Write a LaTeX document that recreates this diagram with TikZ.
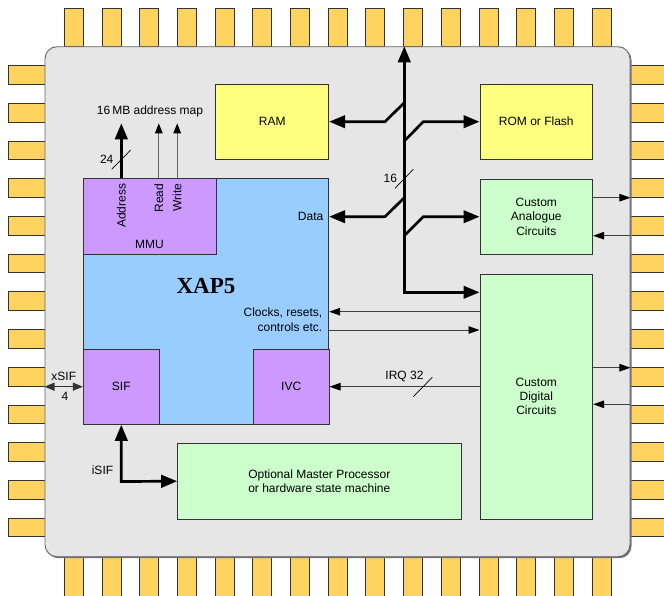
\documentclass[tikz,border=0pt]{standalone}
\usepackage{fontspec}
\setmainfont{Liberation Sans}
\newfontfamily\serifbold{Liberation Serif}
\usetikzlibrary{arrows.meta,calc}
\definecolor{pincol}{HTML}{FFD35F}
\definecolor{bodycol}{HTML}{E6E6E6}
\definecolor{yelcol}{HTML}{FFFF80}
\definecolor{grncol}{HTML}{CCFFCC}
\definecolor{bluecol}{HTML}{99CCFF}
\definecolor{purcol}{HTML}{CC99FF}
\tikzset{
  pinbox/.style={fill=pincol, draw=black!80, line width=0.9pt},
  blk/.style={draw=black!80, line width=0.9pt, inner sep=0pt, align=center},
  busline/.style={line width=2.7pt, black},
  bigtip/.tip={Triangle[length=16pt,width=12.5pt]},
  smalltip/.tip={Triangle[length=11pt,width=7.5pt,color=black]},
  thinarrow/.style={draw=black!75, line width=0.9pt, -{smalltip}},
  sigarrow/.style={draw=black!60, line width=1.3pt, -{Triangle[length=10pt,width=7.5pt,color=black]}},
  slashline/.style={draw=black, line width=0.7pt},
  lbl/.style={inner sep=0pt}
}
\begin{document}
\begin{tikzpicture}[x=1pt,y=-1pt,font=\fontsize{12}{14.3}\selectfont]
\useasboundingbox (0,0) rectangle (664,595);
\clip (0,0) rectangle (664,595);
% pins
\foreach \i in {0,...,14} {
  \path[pinbox] ({64.3+37.7*\i},8.3) rectangle +(19,38.4);
  \path[pinbox] ({64.3+37.7*\i},556.7) rectangle +(19,45);
}
\foreach \i in {0,...,12} {
  \path[pinbox] (8.3,{65.7+37.7*\i}) rectangle +(36.7,18.7);
  \path[pinbox] (630,{65.7+37.7*\i}) rectangle +(45,18.7);
}
% chip body
\fill[black!55, rounded corners=12pt] (46.5,48.2) rectangle (631.5,558.2);
\node[draw=black!60, fill=bodycol, line width=0.9pt, rounded corners=12pt,
      minimum width=585pt, minimum height=510pt, inner sep=0pt] (chip) at (337.5,301.7) {};
% blocks
\node[blk, fill=yelcol, minimum width=113pt, minimum height=75.3pt] (RAM) at (272.2,121.7) {RAM};
\node[blk, fill=yelcol, minimum width=112.7pt, minimum height=75pt] (ROM) at (536.3,121.7) {ROM or Flash};
\node[blk, fill=grncol, minimum width=112.7pt, minimum height=75.3pt] (Ana) at (536.3,216.7) {Custom\\Analogue\\Circuits};
\node[blk, fill=grncol, minimum width=112.7pt, minimum height=245pt] (Dig) at (536.3,396.5) {Custom\\Digital\\Circuits};
\node[blk, fill=bluecol, minimum width=245.4pt, minimum height=245.6pt] (XAP) at (206,301.5) {};
\node[blk, fill=purcol, minimum width=133pt, minimum height=75.6pt] (MMU) at (149.8,216.5) {};
\node[blk, fill=purcol, minimum width=76pt, minimum height=75.3pt] (SIF) at (121.3,386.7) {SIF};
\node[blk, fill=purcol, minimum width=75.7pt, minimum height=75.3pt] (IVC) at (291.2,386.7) {IVC};
\node[blk, fill=grncol, minimum width=283.3pt, minimum height=75.7pt] (Opt) at (319.3,481.2)
  {Optional Master Processor\\or hardware state machine};
% texts inside XAP5 / MMU
\node[lbl] (xaplbl) at (206,286) {\serifbold\bfseries\fontsize{23}{26}\selectfont XAP5};
\node[lbl] (mmulbl) at (149.5,244.3) {MMU};
\node[lbl, rotate=90, anchor=east] (addrlbl) at (121.3,183.5) {Address};
\node[lbl, rotate=90, anchor=east] (readlbl) at (158.8,183.5) {Read};
\node[lbl, rotate=90, anchor=east] (writelbl) at (177.2,183.5) {Write};
\node[lbl, anchor=east] (datalbl) at (323.5,216.2) {Data};
\node[lbl, anchor=east, align=right] (clklbl) at (322.5,319.7) {Clocks, resets,\\controls etc.};
% address map arrows
\node[lbl] (maplbl) at (150,111.5) {16\,MB address map};
\coordinate (adx) at (121.3,123.3);
\coordinate (rdx) at (158.8,123.3);
\coordinate (wrx) at (177.2,123.3);
\draw[busline, -{bigtip}] (adx |- MMU.north) -- (adx);
\draw[sigarrow] (rdx |- MMU.north) -- (rdx);
\draw[sigarrow] (wrx |- MMU.north) -- (wrx);
\node[lbl] (w24) at (106.7,159.3) {24};
\draw[slashline] (111.7,169.3) -- (130.7,150);
% data bus
\coordinate (busx) at (404.3,0);
\coordinate (busbot) at (404.3,292.3);
\draw[busline, {bigtip}-{bigtip}] (busx |- chip.north) -- (busbot) -- (busbot -| Dig.west);
\coordinate (b1) at (404.3,102.7);
\coordinate (k1) at (385,121.7);
\coordinate (b2) at (404.3,141);
\coordinate (k2) at (423.3,121.7);
\coordinate (b3) at (404.3,197.7);
\coordinate (k3) at (385,216.7);
\coordinate (b4) at (404.3,235.7);
\coordinate (k4) at (423.3,216.7);
\draw[busline, -{bigtip}, line join=miter] (b1) -- (k1) -- (RAM.east);
\draw[busline, -{bigtip}, line join=miter] (b2) -- (k2) -- (ROM.west);
\draw[busline, -{bigtip}, line join=miter] (b3) -- (k3) -- (k3 -| XAP.east);
\draw[busline, -{bigtip}, line join=miter] (b4) -- (k4) -- (Ana.west);
\node[lbl] (w16) at (390.3,178.3) {16};
\draw[slashline] (395,188.3) -- (413.3,169.3);
% control signals
\coordinate (yca) at (0,311.7);
\coordinate (ycb) at (0,330);
\coordinate (yirq) at (0,386.7);
\draw[thinarrow] (Dig.west |- yca) -- (XAP.east |- yca);
\draw[thinarrow] (XAP.east |- ycb) -- (Dig.west |- ycb);
\draw[thinarrow] (Dig.west |- yirq) -- (IVC.east);
\node[lbl] (irqlbl) at (404.5,376.7) {IRQ 32};
\draw[slashline] (413.3,396.7) -- (432.3,377.3);
% analogue / digital pins
\coordinate (yao) at (0,197.7);
\coordinate (yai) at (0,235.7);
\coordinate (ydo) at (0,367.7);
\coordinate (ydi) at (0,404.3);
\draw[thinarrow] (Ana.east |- yao) -- (chip.east |- yao);
\draw[thinarrow] (chip.east |- yai) -- (Ana.east |- yai);
\draw[thinarrow] (Dig.east |- ydo) -- (chip.east |- ydo);
\draw[thinarrow] (chip.east |- ydi) -- (Dig.east |- ydi);
% serial interfaces
\draw[draw=black!80, line width=1.3pt, {Triangle[length=10pt,width=8pt]}-{Triangle[length=10pt,width=8pt]}]
  (chip.west |- SIF.west) -- (SIF.west);
\node[lbl] (xsiflbl) at (63.8,376.7) {xSIF};
\node[lbl] (x4lbl) at (65,396.5) {4};
\coordinate (isifc) at (121.3,481.5);
\draw[busline, {bigtip}-{bigtip}, line join=miter] (SIF.south) -- (isifc) -- (Opt.west);
\node[lbl] (isiflbl) at (102.5,470) {iSIF};
\end{tikzpicture}
\end{document}
